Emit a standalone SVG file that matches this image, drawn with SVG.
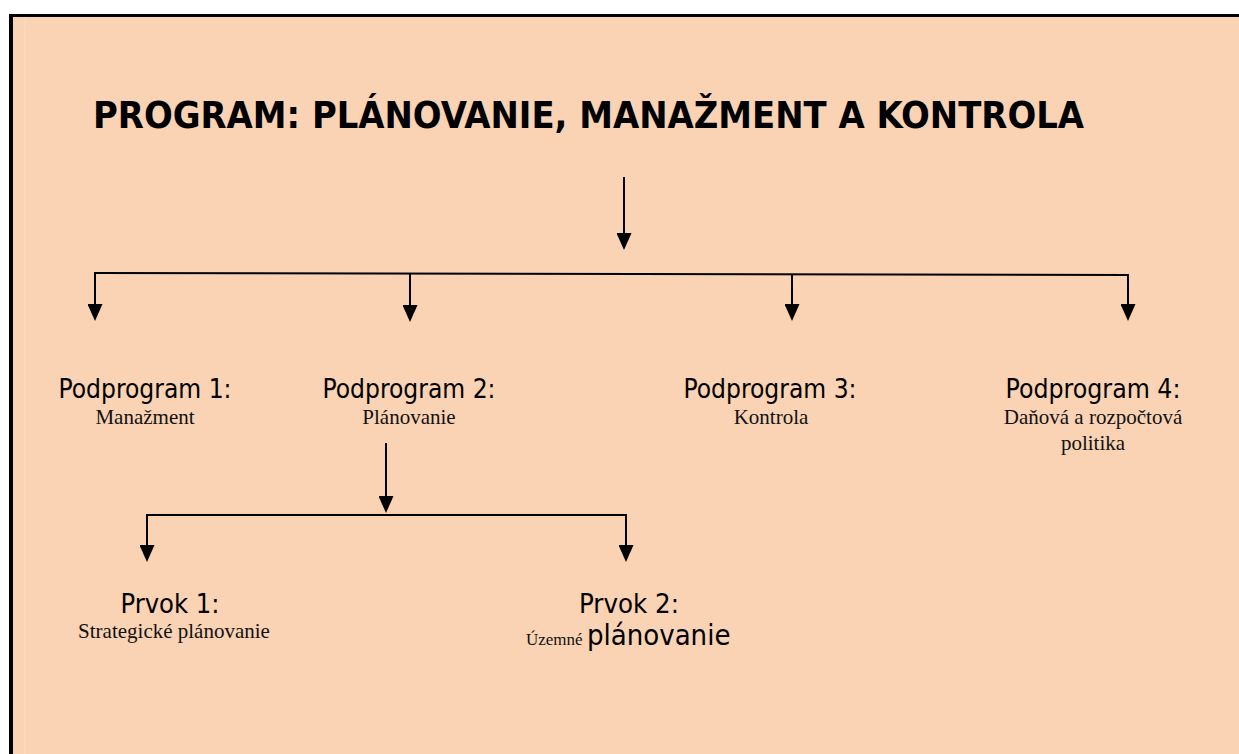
<svg xmlns="http://www.w3.org/2000/svg" width="1239" height="754" viewBox="0 0 1239 754">
  <style>
    .title { font-family: "DejaVu Sans Condensed", "DejaVu Sans", sans-serif; font-weight: bold; font-size: 37px; fill: #000; }
    .head { font-family: "DejaVu Sans Condensed", "DejaVu Sans", sans-serif; font-size: 26px; fill: #000; text-anchor: middle; }
    .big { font-family: "DejaVu Sans Condensed", "DejaVu Sans", sans-serif; font-size: 29px; fill: #000; }
    .sub { font-family: "Liberation Serif", "Times New Roman", serif; font-size: 21px; fill: #111; text-anchor: middle; }
    .subsmall { font-family: "Liberation Serif", "Times New Roman", serif; font-size: 17px; fill: #111; }
    .wire { stroke: #000; stroke-width: 2; fill: none; }
    .drop { stroke: #000; stroke-width: 2; fill: none; marker-end: url(#arrow); }
  </style>
  <defs>
    <marker id="arrow" viewBox="0 0 17 15" refX="15" refY="7.5" markerWidth="17" markerHeight="15" markerUnits="userSpaceOnUse" orient="auto">
      <path d="M0,0 L17,7.5 L0,15 z" fill="#000"/>
    </marker>
  </defs>

  <!-- page background and frame -->
  <rect x="0" y="0" width="1239" height="754" fill="#ffffff"/>
  <rect x="9" y="14" width="1230" height="740" fill="#000000"/>
  <rect x="13" y="17" width="1226" height="737" fill="#FAD3B4"/>
  <line x1="25" y1="17" x2="25" y2="754" stroke="#FCDCC2" stroke-width="1"/>

  <g id="title">
    <text class="title" x="93" y="128" textLength="991" lengthAdjust="spacingAndGlyphs">PROGRAM: PLÁNOVANIE, MANAŽMENT A KONTROLA</text>
  </g>

  <g id="connectors">
    <!-- program to subprograms -->
    <line class="drop" x1="624" y1="177" x2="624" y2="248"/>
    <line class="wire" x1="94" y1="273" x2="1129" y2="275"/>
    <line class="drop" x1="95" y1="273" x2="95" y2="319"/>
    <line class="drop" x1="410" y1="274" x2="410" y2="320"/>
    <line class="drop" x1="792" y1="274" x2="792" y2="319"/>
    <line class="drop" x1="1128" y1="275" x2="1128" y2="319"/>
    <!-- subprogram 2 to elements -->
    <line class="drop" x1="386" y1="443" x2="386" y2="511"/>
    <line class="wire" x1="146" y1="515" x2="627" y2="515"/>
    <line class="drop" x1="147" y1="515" x2="147" y2="560"/>
    <line class="drop" x1="626" y1="515" x2="626" y2="560"/>
  </g>

  <g id="podprogram-1">
    <text class="head" x="145" y="398" textLength="173" lengthAdjust="spacingAndGlyphs">Podprogram 1:</text>
    <text class="sub" x="145" y="424">Manažment</text>
  </g>

  <g id="podprogram-2">
    <text class="head" x="409" y="398" textLength="173" lengthAdjust="spacingAndGlyphs">Podprogram 2:</text>
    <text class="sub" x="409" y="424">Plánovanie</text>
  </g>

  <g id="podprogram-3">
    <text class="head" x="770" y="398" textLength="173" lengthAdjust="spacingAndGlyphs">Podprogram 3:</text>
    <text class="sub" x="771" y="424">Kontrola</text>
  </g>

  <g id="podprogram-4">
    <text class="head" x="1093" y="398" textLength="175" lengthAdjust="spacingAndGlyphs">Podprogram 4:</text>
    <text class="sub" x="1093" y="424">Daňová a rozpočtová</text>
    <text class="sub" x="1093" y="450">politika</text>
  </g>

  <g id="prvok-1">
    <text class="head" x="170" y="613" textLength="99" lengthAdjust="spacingAndGlyphs">Prvok 1:</text>
    <text class="sub" x="174" y="638">Strategické plánovanie</text>
  </g>

  <g id="prvok-2">
    <text class="head" x="629" y="613" textLength="100" lengthAdjust="spacingAndGlyphs">Prvok 2:</text>
    <text x="526" y="645"><tspan class="subsmall">Územné </tspan><tspan class="big">plánovanie</tspan></text>
  </g>
</svg>
